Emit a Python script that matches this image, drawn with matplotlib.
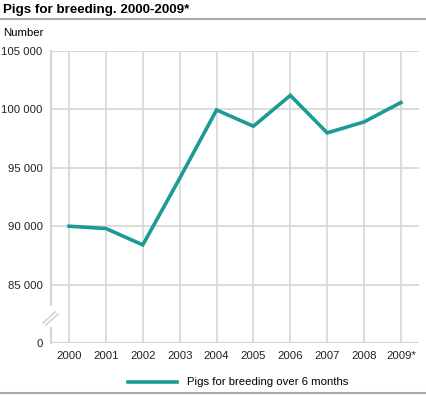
import matplotlib.pyplot as plt
from matplotlib.lines import Line2D

plt.rcParams['font.family'] = ['Liberation Sans', 'DejaVu Sans']

# ----------------------------
# Data
# ----------------------------
years = ["2000", "2001", "2002", "2003", "2004", "2005", "2006", "2007", "2008", "2009*"]
pigs = [90000, 89800, 88400, 94100, 99950, 98560, 101200, 97990, 98930, 100590]

# y axis is broken: the bottom step stands for 0
ytick_vals = [80000, 85000, 90000, 95000, 100000, 105000]
ytick_labels = ["0", "85 000", "90 000", "95 000", "100 000", "105 000"]

grid_col = "#d6d6d6"
line_col = "#1b9b94"

fig = plt.figure(figsize=(4.26, 3.95), dpi=100)
ax = fig.add_axes([51 / 426, 1 - 343 / 395, 368 / 426, 292 / 395])

x = list(range(len(years)))
ax.plot(x, pigs, color=line_col, lw=2.6, solid_joinstyle="miter", zorder=3)

ax.set_xlim(-0.49, 9.49)
ax.set_ylim(80000, 105000)
ax.set_xticks(x)
ax.set_xticklabels(years)
ax.set_yticks(ytick_vals)
ax.set_yticklabels(ytick_labels)
ax.tick_params(length=0, labelsize=8.2, colors="#222222", pad=6)

ax.grid(True, color=grid_col, lw=1.2)
for s in ax.spines.values():
    s.set_visible(False)
ax.axhline(80000, color=grid_col, lw=1.6, zorder=2)
ax.axhline(105000, color=grid_col, lw=1.2, zorder=2)

# left axis with a break between 85 000 and 0
ax.plot([-0.49, -0.49], [105000, 83250], color=grid_col, lw=1.6, clip_on=False)
ax.plot([-0.49, -0.49], [81280, 80000], color=grid_col, lw=1.6, clip_on=False)
fig.add_artist(Line2D([43 / 426, 55 / 426], [1 - 323 / 395, 1 - 312 / 395], color=grid_col, lw=1.3))
fig.add_artist(Line2D([46 / 426, 58 / 426], [1 - 325 / 395, 1 - 314 / 395], color=grid_col, lw=1.3))

# title and unit
fig.text(3 / 426, 1 - 10 / 395, "Pigs for breeding. 2000-2009*", fontsize=9.6,
         fontweight="bold", va="center", ha="left")
fig.add_artist(Line2D([0, 1], [1 - 19 / 395, 1 - 19 / 395], color="#aaaaaa", lw=1.5))
fig.text(3 / 426, 1 - 33 / 395, "Number", fontsize=8.2, va="center", ha="left")

# legend
fig.add_artist(Line2D([128 / 426, 177 / 426], [1 - 382 / 395, 1 - 382 / 395], color=line_col, lw=2.6))
fig.text(187 / 426, 1 - 382 / 395, "Pigs for breeding over 6 months", fontsize=8.2,
         va="center", ha="left")
fig.add_artist(Line2D([0, 1], [1 - 393 / 395, 1 - 393 / 395], color="#aaaaaa", lw=1.5))

fig.savefig("out.png", dpi=100)
